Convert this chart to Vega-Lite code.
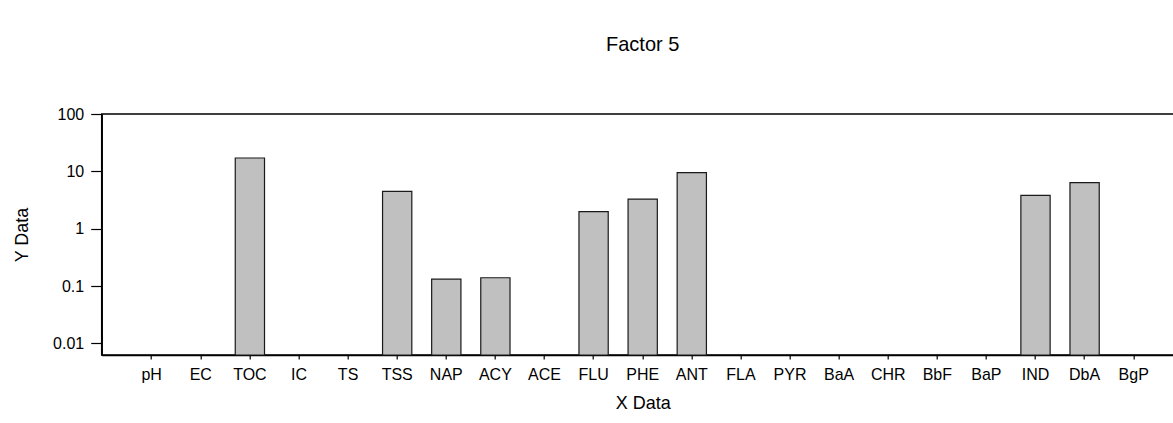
{
  "$schema": "https://vega.github.io/schema/vega-lite/v6.json",
  "autosize": {"type": "none"},
  "width": 1082,
  "height": 241,
  "padding": {"left": 101.7, "top": 114, "right": 0, "bottom": 68},
  "background": "white",
  "title": {"text": "Factor 5", "font": "Liberation Sans", "fontSize": 20, "fontWeight": "normal", "color": "black", "offset": 51, "anchor": "middle"},
  "config": {
    "view": {"stroke": "black", "strokeWidth": 1.5},
    "axis": {"labelFont": "Liberation Sans", "titleFont": "Liberation Sans", "labelColor": "black", "titleColor": "black", "domainColor": "black", "tickColor": "black", "grid": false, "labelFontSize": 16, "titleFontSize": 18, "titleFontWeight": "normal", "domainWidth": 1.5, "tickWidth": 1.2}
  },
  "data": {"values": [
    {"name": "pH", "value": null},
    {"name": "EC", "value": null},
    {"name": "TOC", "value": 17.1},
    {"name": "IC", "value": null},
    {"name": "TS", "value": null},
    {"name": "TSS", "value": 4.48},
    {"name": "NAP", "value": 0.132},
    {"name": "ACY", "value": 0.14},
    {"name": "ACE", "value": null},
    {"name": "FLU", "value": 1.98},
    {"name": "PHE", "value": 3.29},
    {"name": "ANT", "value": 9.49},
    {"name": "FLA", "value": null},
    {"name": "PYR", "value": null},
    {"name": "BaA", "value": null},
    {"name": "CHR", "value": null},
    {"name": "BbF", "value": null},
    {"name": "BaP", "value": null},
    {"name": "IND", "value": 3.81},
    {"name": "DbA", "value": 6.35},
    {"name": "BgP", "value": null}
  ]},
  "mark": {"type": "bar", "fill": "#c0c0c0", "stroke": "#1a1a1a", "strokeWidth": 1.2},
  "encoding": {
    "x": {
      "field": "name", "type": "nominal", "sort": null,
      "scale": {"domain": ["pH","EC","TOC","IC","TS","TSS","NAP","ACY","ACE","FLU","PHE","ANT","FLA","PYR","BaA","CHR","BbF","BaP","IND","DbA","BgP"], "paddingInner": 0.404, "paddingOuter": 0.72},
      "axis": {"title": "X Data", "labelAngle": 0, "tickSize": 4, "labelPadding": 8, "titlePadding": 12}
    },
    "y": {
      "field": "value", "type": "quantitative",
      "scale": {"type": "log", "domain": [0.0063, 100], "nice": false},
      "axis": {"title": "Y Data", "values": [0.01, 0.1, 1, 10, 100], "format": "~g", "tickSize": 11, "labelPadding": 7, "titlePadding": 21}
    },
    "y2": {"datum": 0.0063}
  }
}
